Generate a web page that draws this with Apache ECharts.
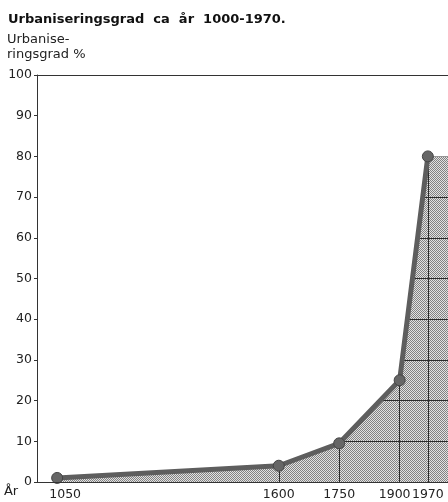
<!DOCTYPE html>
<html><head><meta charset="utf-8">
<script src="https://cdn.jsdelivr.net/npm/echarts@6/dist/echarts.min.js"></script>
<style>html,body{margin:0;padding:0;background:#fff}#c{width:448px;height:502px}</style>
</head><body><div id="c"></div>
<script>
// ---- data ----
const years = [1050, 1600, 1750, 1900, 1970];
const urbanisation = [1, 4, 9.5, 25, 80];
const yTicks = [0, 10, 20, 30, 40, 50, 60, 70, 80, 90, 100];
const xTickLabels = [1050, 1600, 1750, 1900, 1970];
const gridYears = [1600, 1750, 1900, 1970];
const gridLevels = [10, 20, 30, 40, 50, 60, 70, 80];
const xMin = 1000, xMax = 2020;

const titleText = 'Urbaniseringsgrad  ca  år  1000-1970.';
const yName = 'Urbanise-\nringsgrad %';
const xName = 'År';

// halftone-like pattern
const pat = document.createElement('canvas');
pat.width = 2; pat.height = 2;
const pc = pat.getContext('2d');
pc.fillStyle = '#e2e2e2'; pc.fillRect(0,0,2,2);
pc.fillStyle = '#828282'; pc.fillRect(0,0,1,1); pc.fillRect(1,1,1,1);

const linePts = years.map((y, i) => [y, urbanisation[i]]);
const areaPts = linePts.concat([[xMax, urbanisation[urbanisation.length - 1]]]);
const coverPts = [[xMin, urbanisation[0]]].concat(areaPts);

const font = 'DejaVu Sans';
const chart = echarts.init(document.getElementById('c'));
chart.setOption({
  animation: false,
  backgroundColor: '#fff',
  title: [
    { text: titleText, left: 3, top: 8,
      textStyle: { fontFamily: font, fontWeight: 'bold', fontSize: 13, color: '#111' } },
    { text: yName, left: 2, top: 27,
      textStyle: { fontFamily: font, fontWeight: 'normal', fontSize: 13, color: '#222', lineHeight: 15 } }
  ],
  grid: { left: 37, right: 0, top: 75, bottom: 20 },
  xAxis: [{
    type: 'value', min: xMin, max: xMax, z: 10,
    name: xName, nameLocation: 'start', nameGap: 15,
    nameTextStyle: { fontFamily: font, fontSize: 13, color: '#222', align: 'right', verticalAlign: 'top', padding: [3, 0, 0, 0] },
    axisLine: { show: true, lineStyle: { color: '#333', width: 1 } },
    axisTick: { show: false },
    splitLine: { show: false },
    axisLabel: {
      customValues: xTickLabels, margin: 6,
      fontFamily: font, fontSize: 12.5, color: '#222',
      formatter: v => v === 1050 ? '{a|' + v + '}' : (v === 1900 ? '{b|' + v + '}' : '{c|' + v + '}'),
      rich: {
        a: { fontFamily: font, fontSize: 12.5, color: '#222', padding: [0, 0, 0, 16] },
        b: { fontFamily: font, fontSize: 12.5, color: '#222', padding: [0, 10, 0, 0] },
        c: { fontFamily: font, fontSize: 12.5, color: '#222' }
      }
    }
  }, {
    type: 'value', position: 'top', min: xMin, max: xMax, z: 10,
    axisLine: { show: true, onZero: false, lineStyle: { color: '#333', width: 1 } },
    axisTick: { show: false }, axisLabel: { show: false }, splitLine: { show: false }
  }],
  yAxis: {
    type: 'value', min: 0, max: 100, interval: 10, z: 10,
    axisLine: { show: true, lineStyle: { color: '#333', width: 1 } },
    axisTick: { show: true, inside: false, length: 3, lineStyle: { color: '#333' } },
    splitLine: { show: false },
    axisLabel: { margin: 5, fontFamily: font, fontSize: 12.5, color: '#222' }
  },
  series: [
    { // shaded area under curve
      type: 'line', data: areaPts, showSymbol: false, z: 1,
      lineStyle: { width: 1, color: '#444' },
      areaStyle: { color: { image: pat, repeat: 'repeat' }, opacity: 1 }
    },
    { // gridlines inside the shaded area
      type: 'line', data: [], z: 2,
      markLine: {
        z: 2, silent: true, symbol: 'none', label: { show: false },
        lineStyle: { color: '#2a2a2a', width: 1, type: 'solid' },
        data: gridYears.map(v => ({ xAxis: v }))
          .concat(gridLevels.map(v => [{ coord: [years[0], v] }, { coord: [xMax, v] }]))
      }
    },
    { // white cover above curve hides gridlines there
      type: 'line', data: coverPts, showSymbol: false, z: 3,
      lineStyle: { width: 0 },
      areaStyle: { color: '#fff', opacity: 1, origin: 'end' }
    },
    { // main line with points
      type: 'line', data: linePts, z: 4,
      symbol: 'circle', symbolSize: 11,
      lineStyle: { width: 5, color: '#5e5e5e' },
      itemStyle: { color: '#666', borderColor: '#444', borderWidth: 1 }
    }
  ]
});
</script></body></html>
